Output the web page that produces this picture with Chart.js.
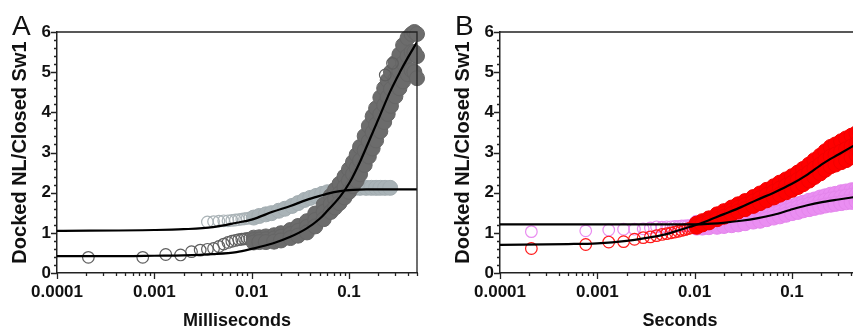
<!DOCTYPE html>
<html>
<head>
<meta charset="utf-8">
<script src="https://cdn.jsdelivr.net/npm/chart.js@4.4.1/dist/chart.umd.min.js"></script>
<style>
  html, body { margin: 0; padding: 0; background: #fff; overflow: hidden; }
  body { width: 853px; height: 331px; position: relative; }
  canvas { position: absolute; top: 0; }
  #panelA { left: 0; }
  #panelB { left: 443px; }
</style>
</head>
<body>
<canvas id="panelA" width="430" height="331"></canvas>
<canvas id="panelB" width="430" height="331"></canvas>
<script>
// Axis ticks
const xTickValues = [0.0001, 0.001, 0.01, 0.1];
const xTickLabels = ['0.0001', '0.001', '0.01', '0.1'];
const yTickLabels = ['0', '1', '2', '3', '4', '5', '6'];

// Panel A - sparse early points (hollow circles)
const darkHollowX = [0.00021, 0.00076, 0.00131, 0.00186, 0.00241, 0.00296, 0.00351, 0.00406, 0.00461, 0.00516, 0.00571, 0.00626, 0.00681, 0.00736, 0.00791, 0.00846, 0.00901, 0.00956];
const darkHollowY = [0.39, 0.39, 0.46, 0.45, 0.53, 0.57, 0.59, 0.61, 0.66, 0.72, 0.76, 0.79, 0.81, 0.83, 0.84, 0.85, 0.86, 0.86];
const darkOutlierX = [0.236, 0.28];
const darkOutlierY = [4.93, 5.22];
const lightHollowX = [0.00351, 0.00406, 0.00461, 0.00516, 0.00571, 0.00626, 0.00681, 0.00736, 0.00791, 0.00846, 0.00901, 0.00956];
const lightHollowY = [1.27, 1.28, 1.29, 1.3, 1.3, 1.31, 1.32, 1.33, 1.34, 1.35, 1.36, 1.37];

// Panel A - dense data bands
const darkBandX = [0.0105, 0.012, 0.014, 0.017, 0.02, 0.025, 0.03, 0.037, 0.045, 0.055, 0.065, 0.072, 0.08, 0.09, 0.1, 0.11, 0.12, 0.13, 0.145, 0.16, 0.175, 0.19, 0.21, 0.23, 0.25, 0.27, 0.3, 0.33, 0.36, 0.4, 0.44, 0.47, 0.5];
const darkBandHi = [0.88, 0.89, 0.91, 0.94, 0.99, 1.07, 1.17, 1.29, 1.48, 1.7, 1.92, 2.07, 2.22, 2.4, 2.58, 2.76, 2.94, 3.14, 3.41, 3.66, 3.9, 4.1, 4.37, 4.6, 4.8, 5.0, 5.24, 5.44, 5.67, 5.85, 5.95, 6.0, 5.95];
const darkBandMid = [0.82, 0.83, 0.84, 0.86, 0.9, 0.97, 1.05, 1.15, 1.32, 1.52, 1.72, 1.85, 1.98, 2.14, 2.3, 2.46, 2.62, 2.8, 3.05, 3.28, 3.5, 3.7, 3.95, 4.18, 4.38, 4.58, 4.82, 5.02, 5.22, 5.4, 5.5, 5.5, 5.4];
const darkBandLo = [0.76, 0.77, 0.77, 0.78, 0.81, 0.87, 0.93, 1.01, 1.16, 1.34, 1.52, 1.63, 1.74, 1.88, 2.02, 2.16, 2.3, 2.46, 2.69, 2.9, 3.1, 3.3, 3.53, 3.76, 3.96, 4.16, 4.4, 4.6, 4.77, 4.95, 5.05, 5.0, 4.85];
const lightBandX = [0.0105, 0.012, 0.014, 0.016, 0.019, 0.022, 0.026, 0.03, 0.035, 0.04, 0.046, 0.053, 0.06, 0.07, 0.08, 0.09, 0.1, 0.115, 0.13, 0.15, 0.17, 0.19, 0.21, 0.235, 0.265];
const lightBandY = [1.38, 1.42, 1.46, 1.49, 1.55, 1.6, 1.67, 1.74, 1.82, 1.87, 1.92, 1.97, 2.01, 2.05, 2.08, 2.1, 2.11, 2.12, 2.12, 2.12, 2.12, 2.12, 2.12, 2.12, 2.12];

// Panel A - fitted curves
const fitLightX = [0.0001, 0.001, 0.002, 0.004, 0.007, 0.01, 0.0167, 0.025, 0.0368, 0.05, 0.059, 0.081, 0.11, 0.15, 0.5];
const fitLightY = [1.05, 1.07, 1.09, 1.14, 1.25, 1.33, 1.53, 1.67, 1.82, 1.92, 1.97, 2.04, 2.07, 2.08, 2.08];
const fitDarkX = [0.0001, 0.0005, 0.001, 0.002, 0.004, 0.007, 0.01, 0.0167, 0.025, 0.0368, 0.05, 0.059, 0.081, 0.1026, 0.13, 0.165, 0.209, 0.264, 0.335, 0.4, 0.5];
const fitDarkY = [0.42, 0.42, 0.43, 0.44, 0.47, 0.52, 0.6, 0.74, 0.9, 1.11, 1.35, 1.53, 1.9, 2.27, 2.77, 3.35, 3.93, 4.51, 5.01, 5.35, 5.75];

// Panel B - sparse early points
const bHollowX = [0.00021, 0.00076, 0.00131, 0.00186, 0.00241, 0.00296, 0.00351, 0.00406, 0.00461, 0.00516, 0.00571, 0.00626, 0.00681, 0.00736, 0.00791, 0.00846, 0.00901, 0.00956];
const redHollowY = [0.61, 0.71, 0.77, 0.78, 0.84, 0.88, 0.9, 0.93, 0.96, 0.98, 1.0, 1.02, 1.04, 1.06, 1.08, 1.1, 1.12, 1.13];
const violetHollowY = [1.03, 1.05, 1.07, 1.09, 1.09, 1.1, 1.12, 1.15, 1.14, 1.15, 1.15, 1.16, 1.16, 1.17, 1.17, 1.18, 1.18, 1.19];

// Panel B - dense data bands
const bBandX = [0.0105, 0.012, 0.014, 0.017, 0.02, 0.024, 0.028, 0.033, 0.04, 0.047, 0.055, 0.065, 0.075, 0.087, 0.1, 0.115, 0.13, 0.15, 0.17, 0.195, 0.22, 0.25, 0.28, 0.32, 0.36, 0.41, 0.46, 0.5];
const redBandHi = [1.23, 1.29, 1.36, 1.46, 1.54, 1.63, 1.71, 1.79, 1.89, 1.98, 2.07, 2.16, 2.25, 2.33, 2.41, 2.5, 2.59, 2.7, 2.81, 2.92, 3.03, 3.14, 3.2, 3.28, 3.35, 3.42, 3.48, 3.52];
const redBandMid = [1.19, 1.25, 1.31, 1.4, 1.47, 1.55, 1.62, 1.69, 1.78, 1.86, 1.94, 2.02, 2.1, 2.17, 2.24, 2.32, 2.4, 2.5, 2.6, 2.7, 2.8, 2.9, 2.95, 3.02, 3.08, 3.15, 3.21, 3.26];
const redBandLo = [1.15, 1.21, 1.26, 1.34, 1.4, 1.47, 1.53, 1.59, 1.67, 1.74, 1.81, 1.88, 1.95, 2.01, 2.07, 2.14, 2.21, 2.3, 2.39, 2.48, 2.57, 2.66, 2.7, 2.76, 2.81, 2.88, 2.94, 3.0];
const violetBandHi = [1.25, 1.25, 1.26, 1.27, 1.29, 1.32, 1.34, 1.37, 1.41, 1.45, 1.49, 1.53, 1.58, 1.62, 1.66, 1.71, 1.75, 1.8, 1.83, 1.88, 1.91, 1.95, 1.97, 2.01, 2.03, 2.06, 2.08, 2.1];
const violetBandMid = [1.2, 1.2, 1.21, 1.22, 1.24, 1.26, 1.28, 1.31, 1.35, 1.38, 1.42, 1.46, 1.5, 1.54, 1.58, 1.62, 1.66, 1.7, 1.73, 1.77, 1.8, 1.83, 1.85, 1.88, 1.9, 1.92, 1.94, 1.96];
const violetBandLo = [1.13, 1.13, 1.14, 1.15, 1.17, 1.19, 1.21, 1.24, 1.28, 1.3, 1.34, 1.38, 1.41, 1.45, 1.49, 1.52, 1.56, 1.59, 1.62, 1.65, 1.68, 1.7, 1.72, 1.74, 1.76, 1.77, 1.79, 1.81];

// Panel B - fitted curves
const fitRedX = [0.0001, 0.0005, 0.001, 0.002, 0.003, 0.005, 0.007, 0.009, 0.012, 0.0197, 0.03, 0.0435, 0.065, 0.1, 0.14, 0.21, 0.3, 0.41, 0.5];
const fitRedY = [0.7, 0.72, 0.74, 0.8, 0.86, 0.96, 1.07, 1.15, 1.25, 1.46, 1.64, 1.82, 2.0, 2.22, 2.43, 2.73, 2.95, 3.14, 3.26];
const fitVioletX = [0.0001, 0.001, 0.005, 0.01, 0.015, 0.0197, 0.03, 0.0435, 0.065, 0.0955, 0.14, 0.21, 0.3, 0.41, 0.5];
const fitVioletY = [1.21, 1.21, 1.21, 1.21, 1.23, 1.25, 1.3, 1.36, 1.45, 1.57, 1.68, 1.77, 1.83, 1.88, 1.91];

Chart.defaults.font.family = '"Liberation Sans", Arial, Helvetica, sans-serif';
Chart.defaults.color = '#111';

const pts = (xs, ys) => xs.map((x, i) => ({ x: x, y: ys[i] }));

// minor ticks on the log axis: 1..9 x each decade, up to the axis end
const X_MAX = 0.5;
const xAllTicks = [];
xTickValues.forEach(m => {
    for (let k = 1; k <= 9; k++) {
        const v = parseFloat((m * k).toPrecision(6));
        if (v <= X_MAX) xAllTicks.push(v);
    }
});
const yAllTicks = [];
for (let i = 0; i <= 30; i++) yAllTicks.push(Math.round(i * 2) / 10);

const isMajorX = v => xTickValues.findIndex(m => Math.abs(v / m - 1) < 1e-6);
const isIntY = v => Math.abs(v - Math.round(v)) < 1e-6;

const hollow = color => ({
    pointRadius: 5.8, pointBorderWidth: 1.2, pointBorderColor: color,
    pointBackgroundColor: 'rgba(255,255,255,0)', showLine: false, clip: false
});
const band = (fill, edge) => ({
    pointRadius: 7.5, pointBorderWidth: 1, pointBorderColor: edge,
    pointBackgroundColor: fill, showLine: false, clip: false
});
const fitLine = {
    borderColor: '#000', borderWidth: 2.2, pointRadius: 0, showLine: true,
    cubicInterpolationMode: 'monotone', fill: false
};

// frame, tick marks and panel letter
const frame = {
    id: 'frame',
    afterDraw(chart, args, opts) {
        const { ctx, chartArea: a, scales: { x, y } } = chart;
        ctx.save();
        ctx.strokeStyle = '#222';
        ctx.lineWidth = 1.3;
        ctx.beginPath();
        ctx.moveTo(a.left, a.top);
        ctx.lineTo(a.right, a.top);
        ctx.lineTo(a.right, a.bottom);
        x.ticks.forEach(t => {
            const px = Math.round(x.getPixelForValue(t.value)) + 0.5;
            const len = isMajorX(t.value) >= 0 ? 6 : 3;
            ctx.moveTo(px, a.bottom);
            ctx.lineTo(px, a.bottom + len);
        });
        y.ticks.forEach(t => {
            const py = Math.round(y.getPixelForValue(t.value)) + 0.5;
            const len = isIntY(t.value) ? 6 : 3;
            ctx.moveTo(a.left, py);
            ctx.lineTo(a.left - len, py);
        });
        ctx.stroke();
        ctx.fillStyle = '#111';
        ctx.font = '28px "Liberation Sans", Arial, sans-serif';
        ctx.textBaseline = 'alphabetic';
        ctx.fillText(opts.letter, 12, 35);
        ctx.restore();
    }
};

function panelOptions(xTitle, letter) {
    return {
        responsive: false,
        animation: false,
        events: [],
        layout: { padding: { top: 32, right: 13, left: 0, bottom: 0 } },
        plugins: {
            legend: { display: false },
            tooltip: { enabled: false },
            frame: { letter: letter }
        },
        scales: {
            x: {
                type: 'logarithmic',
                min: 0.0001,
                max: X_MAX,
                afterBuildTicks: s => { s.ticks = xAllTicks.map(v => ({ value: v })); },
                afterFit: s => { s.height = 58; },
                grid: { display: false, drawTicks: true, tickLength: 6 },
                border: { display: true, color: '#222', width: 1.5 },
                ticks: {
                    autoSkip: false, maxRotation: 0, minRotation: 0, padding: 3,
                    font: { size: 17, weight: 'bold' },
                    callback: v => { const i = isMajorX(v); return i >= 0 ? xTickLabels[i] : ''; }
                },
                title: {
                    display: true, text: xTitle,
                    font: { size: 18, weight: 'bold', lineHeight: 1 },
                    padding: { top: 0, bottom: 1 }
                }
            },
            y: {
                min: 0,
                max: 6,
                afterBuildTicks: s => { s.ticks = yAllTicks.map(v => ({ value: v })); },
                afterFit: s => { s.width = 57; },
                grid: { display: false, drawTicks: true, tickLength: 6 },
                border: { display: true, color: '#222', width: 1.5 },
                ticks: {
                    autoSkip: false, padding: 0,
                    font: { size: 17, weight: 'bold' },
                    callback: v => isIntY(v) ? yTickLabels[Math.round(v)] : ''
                },
                title: {
                    display: true, text: 'Docked NL/Closed Sw1',
                    font: { size: 20, weight: 'bold', lineHeight: 1 },
                    padding: { top: 10, bottom: 0 }
                }
            }
        }
    };
}

// Panel A
new Chart(document.getElementById('panelA'), {
    type: 'scatter',
    plugins: [frame],
    data: {
        datasets: [
            Object.assign({ data: pts(fitLightX, fitLightY) }, fitLine),
            Object.assign({ data: pts(fitDarkX, fitDarkY) }, fitLine),
            Object.assign({ data: pts(darkOutlierX, darkOutlierY) }, hollow('#5f5f5f')),
            Object.assign({ data: pts(darkBandX, darkBandHi).concat(pts(darkBandX, darkBandMid), pts(darkBandX, darkBandLo)) }, band('#6c6c6c', '#666666')),
            Object.assign({ data: pts(darkHollowX, darkHollowY) }, hollow('#5f5f5f')),
            Object.assign({ data: pts(lightBandX, lightBandY) }, band('#a9b3b7', '#a2acb0')),
            Object.assign({ data: pts(lightHollowX, lightHollowY) }, hollow('#aab3b7'))
        ]
    },
    options: panelOptions('Milliseconds', 'A')
});

// Panel B
new Chart(document.getElementById('panelB'), {
    type: 'scatter',
    plugins: [frame],
    data: {
        datasets: [
            Object.assign({ data: pts(fitVioletX, fitVioletY) }, fitLine),
            Object.assign({ data: pts(fitRedX, fitRedY) }, fitLine),
            Object.assign({ data: pts(bBandX, redBandHi).concat(pts(bBandX, redBandMid), pts(bBandX, redBandLo)) }, band('#ff0000', '#f20000')),
            Object.assign({ data: pts(bHollowX, redHollowY) }, hollow('#ff1a1a')),
            Object.assign({ data: pts(bBandX, violetBandHi).concat(pts(bBandX, violetBandMid), pts(bBandX, violetBandLo)) }, band('#ea8ef2', '#e486ec')),
            Object.assign({ data: pts(bHollowX, violetHollowY) }, hollow('#e98cf0'))
        ]
    },
    options: panelOptions('Seconds', 'B')
});
</script>
</body>
</html>
